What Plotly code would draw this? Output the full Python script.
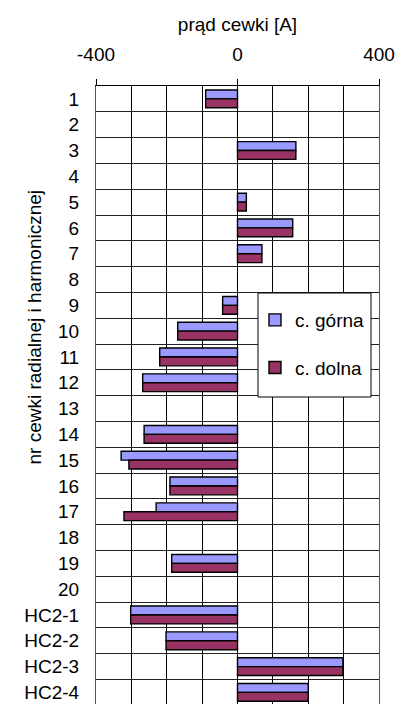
import plotly.graph_objects as go

# coil numbers (radial coils 1-20 and harmonic coils HC2-1..4)
coils = [str(i) for i in range(1, 21)] + ["HC2-1", "HC2-2", "HC2-3", "HC2-4"]

# coil current [A] for the upper and lower coil sets
gorna = [-90, None, 165, None, 25, 156, 69, None, -42, -169, -220, -268,
         None, -264, -329, -191, -230, None, -186, None, -302, -202, 298, 200]
dolna = [-90, None, 165, None, 25, 156, 69, None, -42, -169, -220, -268,
         None, -264, -307, -191, -321, None, -186, None, -302, -202, 298, 200]

x_ticks = [-400, 0, 400]
x_tick_text = ["-400", "0", "400"]

FONT = "Liberation Sans, Arial, sans-serif"
FS = 19
W, H = 401, 704
ML, MR, MT, MB = 96, 22, 86, 0
PW, PH = W - ML - MR, H - MT - MB


def px(x):
    return (x - ML) / PW


def py(y):
    return (H - MB - y) / PH


fig = go.Figure()
fig.add_trace(go.Bar(
    y=coils, x=gorna, orientation="h", name="c. górna",
    marker=dict(color="#9999FF", line=dict(color="black", width=1.4)),
    legendgroup="g",
))
fig.add_trace(go.Bar(
    y=coils, x=dolna, orientation="h", name="c. dolna",
    marker=dict(color="#993366", line=dict(color="black", width=1.4)),
    legendgroup="d",
))

# legend frame
fig.add_shape(type="rect", xref="paper", yref="paper",
              x0=px(258), x1=px(371), y0=py(397), y1=py(293),
              fillcolor="white", line=dict(color="black", width=1),
              layer="above")

fig.add_annotation(
    text="nr cewki radialnej i harmonicznej", textangle=-90,
    xref="paper", yref="paper", x=px(34), y=py(188),
    xanchor="center", yanchor="top", showarrow=False,
    font=dict(family=FONT, size=FS, color="black"),
)

fig.update_layout(
    width=W, height=H,
    margin=dict(l=ML, r=MR, t=MT, b=MB, autoexpand=False),
    paper_bgcolor="white", plot_bgcolor="white",
    font=dict(family=FONT, size=FS, color="black"),
    barmode="group", bargap=0.31, bargroupgap=0,
    showlegend=True,
    legend=dict(
        x=px(255), y=py(301), xanchor="left", yanchor="top",
        bgcolor="rgba(0,0,0,0)", borderwidth=0,
        traceorder="grouped", tracegroupgap=20,
        font=dict(family=FONT, size=FS, color="black"),
    ),
    xaxis=dict(
        side="top", range=[-400, 400],
        tickvals=x_ticks, ticktext=x_tick_text,
        ticks="outside", ticklen=6, tickcolor="black",
        ticklabelstandoff=10,
        showline=True, linecolor="black", linewidth=1, mirror=True,
        showgrid=True, gridcolor="black", gridwidth=1,
        zeroline=True, zerolinecolor="black", zerolinewidth=1,
        minor=dict(dtick=100, tick0=0, showgrid=True,
                   gridcolor="black", gridwidth=1, ticks=""),
        title=dict(text="prąd cewki [A]", standoff=7,
                   font=dict(family=FONT, size=FS)),
        fixedrange=True,
    ),
    yaxis=dict(
        type="category", categoryorder="array", categoryarray=coils,
        range=[23.45, -0.5], tickson="boundaries", ticks="",
        ticklabelstandoff=12,
        showline=True, linecolor="#555555", linewidth=1, mirror=True,
        showgrid=True, gridcolor="#222222", gridwidth=1,
        fixedrange=True,
    ),
)

fig.write_html("out.html")
